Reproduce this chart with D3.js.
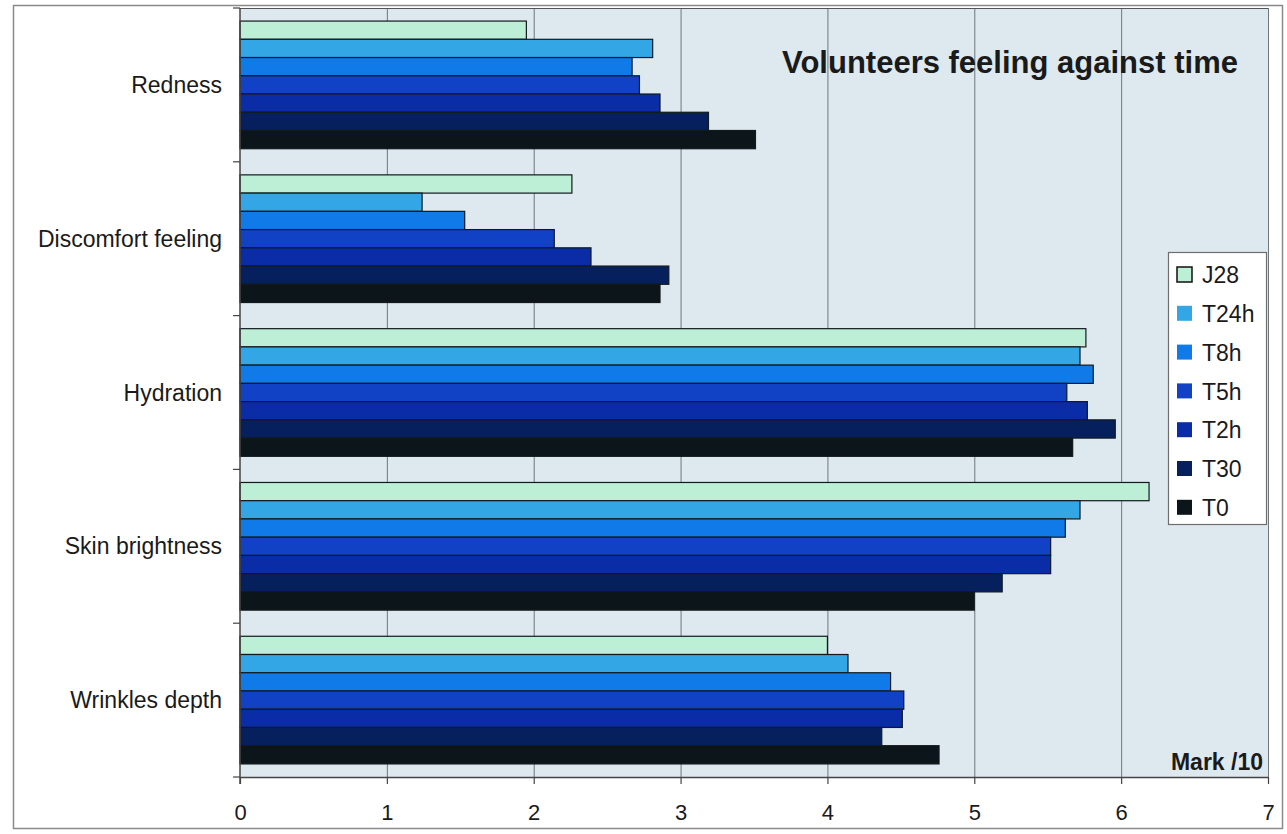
<!DOCTYPE html>
<html>
<head>
<meta charset="utf-8">
<script src="https://cdn.jsdelivr.net/npm/d3@7"></script>
<style>
  html, body { margin: 0; padding: 0; background: #ffffff; }
  svg { display: block; }
  text { font-family: "Liberation Sans", Arial, sans-serif; fill: #1a1a1a; }
</style>
</head>
<body>
<svg id="chart" width="1287" height="834"></svg>
<script>
// Categories, listed top to bottom
const categories = ["Redness", "Discomfort feeling", "Hydration", "Skin brightness", "Wrinkles depth"];
// Time points, listed top to bottom inside each group
const seriesNames = ["J28", "T24h", "T8h", "T5h", "T2h", "T30", "T0"];
const seriesColors = ["#bdeed6", "#33a6e6", "#0f7ae8", "#1142c6", "#0a2ca6", "#06205e", "#0c1519"];
// Marks out of 10, one array per time point (same order as categories)
const J28  = [1.95, 2.26, 5.76, 6.19, 4.00];
const T24h = [2.81, 1.24, 5.72, 5.72, 4.14];
const T8h  = [2.67, 1.53, 5.81, 5.62, 4.43];
const T5h  = [2.72, 2.14, 5.63, 5.52, 4.52];
const T2h  = [2.86, 2.39, 5.77, 5.52, 4.51];
const T30  = [3.19, 2.92, 5.96, 5.19, 4.37];
const T0   = [3.51, 2.86, 5.67, 5.00, 4.76];
const seriesValues = [J28, T24h, T8h, T5h, T2h, T30, T0];
const xTicks = [0, 1, 2, 3, 4, 5, 6, 7];

const svg = d3.select("#chart");

// Outer frame
svg.append("rect")
  .attr("x", 13.5).attr("y", 5.5).attr("width", 1269).attr("height", 823)
  .attr("fill", "#ffffff").attr("stroke", "#8a8a8a").attr("stroke-width", 1.5);

const plot = { left: 240, top: 8, right: 1268, bottom: 777 };

const x = d3.scaleLinear().domain([0, 7]).range([plot.left, plot.right]);
const y = d3.scaleBand().domain(categories).range([plot.top, plot.bottom])
  .paddingInner(0.17).paddingOuter(0.085);
const ySeries = d3.scaleBand().domain(seriesNames).range([0, y.bandwidth()]);

// Plot background
svg.append("rect")
  .attr("x", plot.left).attr("y", plot.top)
  .attr("width", plot.right - plot.left).attr("height", plot.bottom - plot.top)
  .attr("fill", "#dde8ef");

// Vertical gridlines
svg.append("g").selectAll("line")
  .data(xTicks.filter(d => d > 0))
  .join("line")
  .attr("x1", d => x(d) + 0.5).attr("x2", d => x(d) + 0.5)
  .attr("y1", plot.top).attr("y2", plot.bottom)
  .attr("stroke", "#6f777b").attr("stroke-width", 1);

// Top border of the plot area
svg.append("line")
  .attr("x1", plot.left).attr("x2", plot.right)
  .attr("y1", plot.top + 0.5).attr("y2", plot.top + 0.5)
  .attr("stroke", "#555").attr("stroke-width", 1.2);

// Bars
const groups = svg.append("g").selectAll("g")
  .data(categories)
  .join("g")
  .attr("transform", d => `translate(0,${y(d)})`);

groups.selectAll("rect")
  .data((c, ci) => seriesNames.map((s, si) => ({ s, si, v: seriesValues[si][ci] })))
  .join("rect")
  .attr("x", x(0))
  .attr("y", d => ySeries(d.s))
  .attr("width", d => x(d.v) - x(0))
  .attr("height", ySeries.bandwidth())
  .attr("fill", d => seriesColors[d.si])
  .attr("stroke", "#121a1e").attr("stroke-width", 1.2);

// X axis
const xAxis = svg.append("g")
  .attr("transform", `translate(0,${plot.bottom})`)
  .call(d3.axisBottom(x).tickValues(xTicks).tickFormat(d3.format("d"))
    .tickSize(7).tickPadding(20).tickSizeOuter(0));
xAxis.select(".domain").attr("stroke", "#444").attr("stroke-width", 1.5);
xAxis.selectAll(".tick line").attr("stroke", "#444").attr("stroke-width", 1.2);
xAxis.selectAll("text")
  .attr("font-size", 22).attr("font-family", "Liberation Sans, Arial, sans-serif").attr("fill", "#1a1a1a");

// Y axis with tick marks between categories
const yAxis = svg.append("g").attr("transform", `translate(${plot.left},0)`);
yAxis.append("line")
  .attr("x1", 0).attr("x2", 0).attr("y1", plot.top).attr("y2", plot.bottom + 7)
  .attr("stroke", "#444").attr("stroke-width", 1.5);
const boundaries = categories.map(c => y(c) - y.step() * y.paddingInner() / 2)
  .concat([plot.bottom]);
boundaries[0] = plot.top;
yAxis.selectAll("line.sep")
  .data(boundaries)
  .join("line")
  .attr("class", "sep")
  .attr("x1", -7).attr("x2", 0)
  .attr("y1", d => d).attr("y2", d => d)
  .attr("stroke", "#444").attr("stroke-width", 1.2);

// Category labels
svg.append("g").selectAll("text")
  .data(categories)
  .join("text")
  .attr("x", 222)
  .attr("y", d => y(d) + y.bandwidth() / 2)
  .attr("dy", "0.35em")
  .attr("text-anchor", "end")
  .attr("font-size", 23)
  .text(d => d);

// Title
svg.append("text")
  .attr("x", 1010).attr("y", 73)
  .attr("text-anchor", "middle")
  .attr("font-size", 31).attr("font-weight", "bold")
  .text("Volunteers feeling against time");

// Axis unit label
svg.append("text")
  .attr("x", 1263).attr("y", 770)
  .attr("text-anchor", "end")
  .attr("font-size", 23).attr("font-weight", "bold")
  .text("Mark /10");

// Legend
const legend = svg.append("g").attr("transform", "translate(1168,252)");
legend.append("rect")
  .attr("x", 0.5).attr("y", 0.5).attr("width", 98).attr("height", 272)
  .attr("fill", "#ffffff").attr("stroke", "#6e6e6e").attr("stroke-width", 1.2);
const items = legend.selectAll("g.item")
  .data(seriesNames)
  .join("g")
  .attr("class", "item")
  .attr("transform", (d, i) => `translate(9,${23 + i * 38.8})`);
items.append("rect")
  .attr("x", 0).attr("y", -8).attr("width", 15).attr("height", 15)
  .attr("fill", (d, i) => seriesColors[i])
  .attr("stroke", (d, i) => i === 0 ? "#111" : "none")
  .attr("stroke-width", 1.5);
items.append("text")
  .attr("x", 25).attr("y", 0).attr("dy", "0.36em")
  .attr("font-size", 23)
  .text(d => d);
</script>
</body>
</html>
